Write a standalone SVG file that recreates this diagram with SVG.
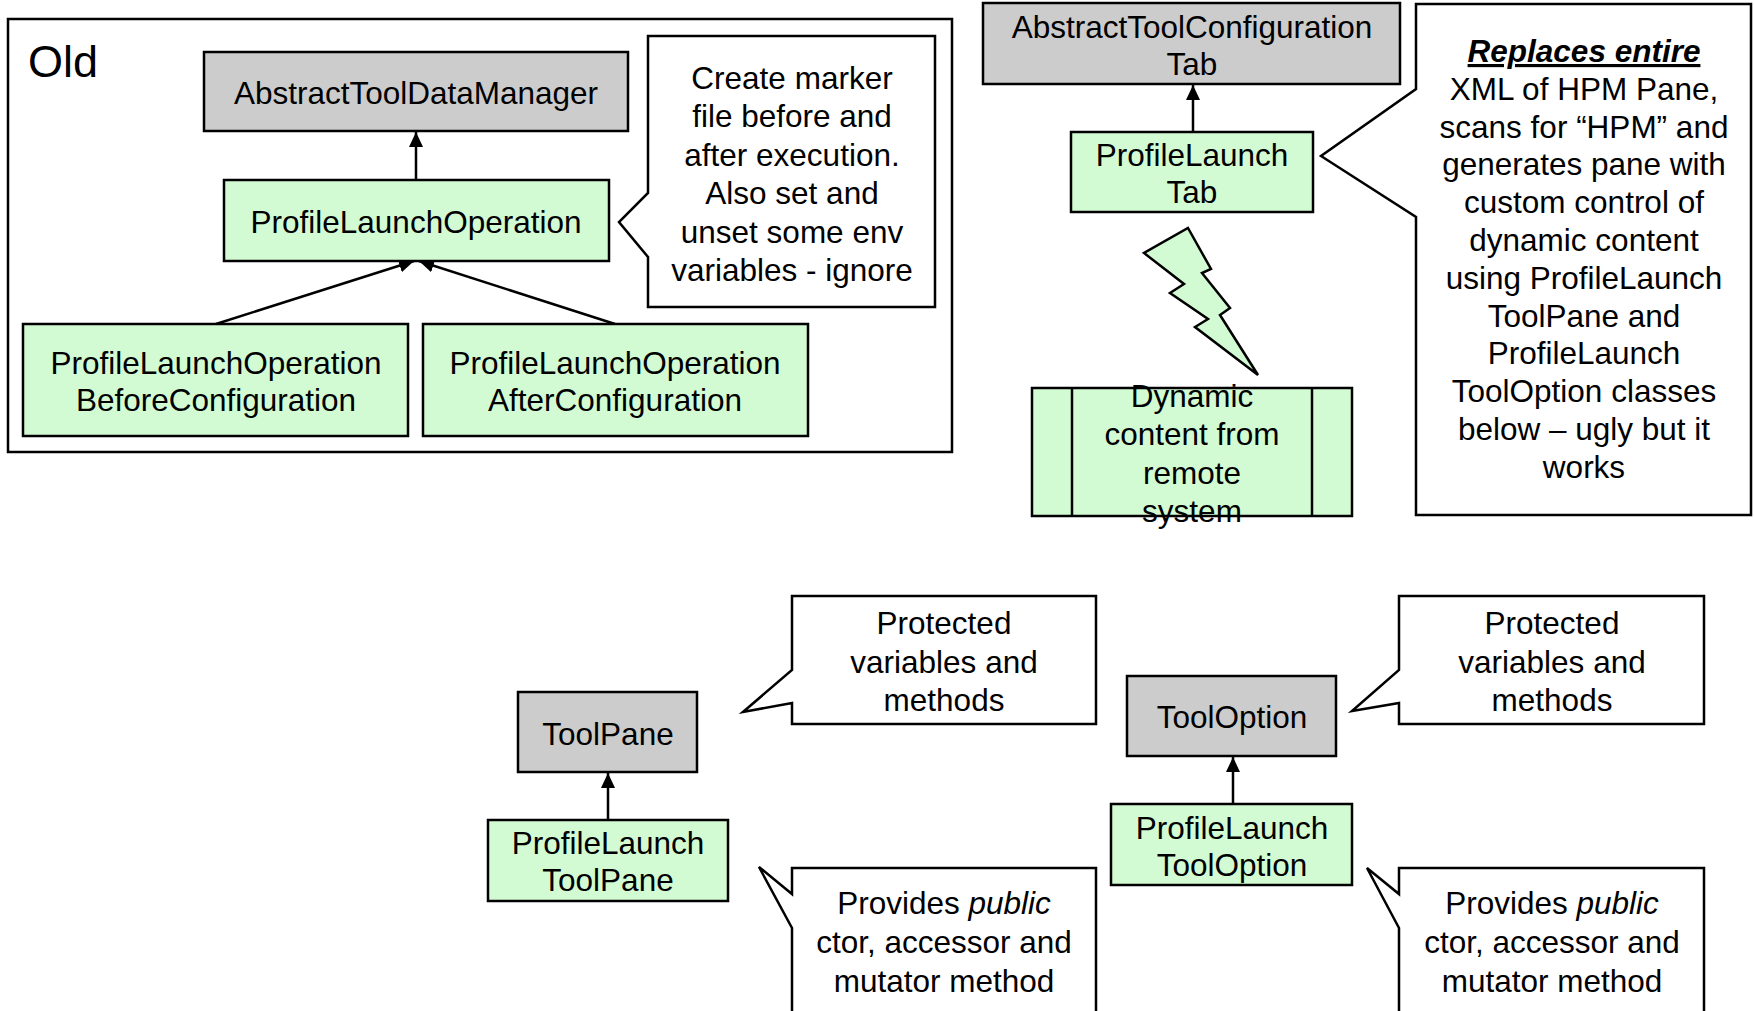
<svg xmlns="http://www.w3.org/2000/svg" width="1754" height="1011" viewBox="0 0 1754 1011">
<style>
.t{font-family:"Liberation Sans",Arial,sans-serif;font-size:31.5px;fill:#000;text-anchor:middle}
.gray{fill:#cccccc;stroke:#000;stroke-width:2.5}
.green{fill:#d3fbd3;stroke:#000;stroke-width:2.5}
.note{fill:#fff;stroke:#000;stroke-width:2.5;stroke-linejoin:miter}
.conn{stroke:#000;stroke-width:2.5;fill:none}
</style>
<defs>
<marker id="arr" markerUnits="userSpaceOnUse" markerWidth="16" markerHeight="14" refX="15" refY="7" orient="auto">
<path d="M0,0 L15,7 L0,14 Z" fill="#000"/>
</marker>
</defs>
<rect width="1754" height="1011" fill="#fff"/>

<g id="old-frame">
<rect x="8" y="19" width="944" height="433" fill="none" stroke="#000" stroke-width="2.5"/>
<text x="28" y="77" style="font-family:'Liberation Sans',Arial,sans-serif;font-size:45px">Old</text>
</g>

<g id="connectors">
<line class="conn" x1="416" y1="180" x2="416" y2="132" marker-end="url(#arr)"/>
<line class="conn" x1="216" y1="324" x2="414" y2="261" marker-end="url(#arr)"/>
<line class="conn" x1="615" y1="324" x2="419" y2="261" marker-end="url(#arr)"/>
<line class="conn" x1="1193" y1="132" x2="1193" y2="85" marker-end="url(#arr)"/>
<line class="conn" x1="608" y1="820" x2="608" y2="773" marker-end="url(#arr)"/>
<line class="conn" x1="1233" y1="804" x2="1233" y2="757" marker-end="url(#arr)"/>
</g>

<g id="AbstractToolDataManager">
<rect class="gray" x="204" y="52" width="424" height="79"/>
<text class="t" x="416" y="104">AbstractToolDataManager</text>
</g>
<g id="ProfileLaunchOperation">
<rect class="green" x="224" y="180" width="385" height="81"/>
<text class="t" x="416" y="233">ProfileLaunchOperation</text>
</g>
<g id="ProfileLaunchOperationBeforeConfiguration">
<rect class="green" x="23" y="324" width="385" height="112"/>
<text class="t" x="216" y="374">ProfileLaunchOperation</text>
<text class="t" x="216" y="411">BeforeConfiguration</text>
</g>
<g id="ProfileLaunchOperationAfterConfiguration">
<rect class="green" x="423" y="324" width="385" height="112"/>
<text class="t" x="615" y="374">ProfileLaunchOperation</text>
<text class="t" x="615" y="411">AfterConfiguration</text>
</g>
<g id="note-marker">
<path class="note" d="M648,36 H935 V307 H648 V257 L619,222 L648,193 Z"/>
<text class="t" x="792" y="89">Create marker</text>
<text class="t" x="792" y="127.4">file before and</text>
<text class="t" x="792" y="165.8">after execution.</text>
<text class="t" x="792" y="204.2">Also set and</text>
<text class="t" x="792" y="242.6">unset some env</text>
<text class="t" x="792" y="281">variables - ignore</text>
</g>

<g id="AbstractToolConfigurationTab">
<rect class="gray" x="983" y="3" width="417" height="81"/>
<text class="t" x="1192" y="38">AbstractToolConfiguration</text>
<text class="t" x="1192" y="75">Tab</text>
</g>
<g id="ProfileLaunchTab">
<rect class="green" x="1071" y="132" width="242" height="80"/>
<text class="t" x="1192" y="166">ProfileLaunch</text>
<text class="t" x="1192" y="203">Tab</text>
</g>
<g id="lightning">
<path d="M1188,228 L1211,269 L1202,273 L1230,308 L1220,315 L1258,375 L1195,327 L1208,319 L1170,293 L1184,284 L1144,253 Z" fill="#d3fbd3" stroke="#000" stroke-width="2.5" stroke-linejoin="miter"/>
</g>
<g id="DynamicContent">
<rect class="green" x="1032" y="388" width="320" height="128"/>
<line class="conn" x1="1072" y1="388" x2="1072" y2="516"/>
<line class="conn" x1="1312" y1="388" x2="1312" y2="516"/>
<text class="t" x="1192" y="407">Dynamic</text>
<text class="t" x="1192" y="445">content from</text>
<text class="t" x="1192" y="484">remote</text>
<text class="t" x="1192" y="522">system</text>
</g>
<g id="note-replaces">
<path class="note" d="M1416,4 H1751 V515 H1416 V217 L1321,156 L1416,89 Z"/>
<text class="t" x="1584" y="62" style="font-weight:bold;font-style:italic;text-decoration:underline">Replaces entire</text>
<text class="t" x="1584" y="99.8">XML of HPM Pane,</text>
<text class="t" x="1584" y="137.6">scans for “HPM” and</text>
<text class="t" x="1584" y="175.4">generates pane with</text>
<text class="t" x="1584" y="213.2">custom control of</text>
<text class="t" x="1584" y="251">dynamic content</text>
<text class="t" x="1584" y="288.8">using ProfileLaunch</text>
<text class="t" x="1584" y="326.6">ToolPane and</text>
<text class="t" x="1584" y="364.4">ProfileLaunch</text>
<text class="t" x="1584" y="402.2">ToolOption classes</text>
<text class="t" x="1584" y="440">below – ugly but it</text>
<text class="t" x="1584" y="477.8">works</text>
</g>

<g id="ToolPane">
<rect class="gray" x="518" y="692" width="179" height="80"/>
<text class="t" x="608" y="745">ToolPane</text>
</g>
<g id="ProfileLaunchToolPane">
<rect class="green" x="488" y="820" width="240" height="81"/>
<text class="t" x="608" y="854">ProfileLaunch</text>
<text class="t" x="608" y="891">ToolPane</text>
</g>
<g id="note-toolpane-protected">
<path class="note" d="M792,596 H1096 V724 H792 V703 L743,712 L792,670 Z"/>
<text class="t" x="944" y="634">Protected</text>
<text class="t" x="944" y="672.5">variables and</text>
<text class="t" x="944" y="711">methods</text>
</g>
<g id="note-toolpane-public">
<path class="note" d="M792,868 H1096 V1025 H792 V928 L759,867 L792,894 Z"/>
<text class="t" x="944" y="914">Provides <tspan style="font-style:italic">public</tspan></text>
<text class="t" x="944" y="953">ctor, accessor and</text>
<text class="t" x="944" y="992">mutator method</text>
</g>

<g id="ToolOption">
<rect class="gray" x="1127" y="676" width="209" height="80"/>
<text class="t" x="1232" y="728">ToolOption</text>
</g>
<g id="ProfileLaunchToolOption">
<rect class="green" x="1111" y="804" width="241" height="81"/>
<text class="t" x="1232" y="839">ProfileLaunch</text>
<text class="t" x="1232" y="876">ToolOption</text>
</g>
<g id="note-tooloption-protected">
<path class="note" d="M1399,596 H1704 V724 H1399 V703 L1352,711 L1399,670 Z"/>
<text class="t" x="1552" y="634">Protected</text>
<text class="t" x="1552" y="672.5">variables and</text>
<text class="t" x="1552" y="711">methods</text>
</g>
<g id="note-tooloption-public">
<path class="note" d="M1399,868 H1704 V1025 H1399 V928 L1367,868 L1399,894 Z"/>
<text class="t" x="1552" y="914">Provides <tspan style="font-style:italic">public</tspan></text>
<text class="t" x="1552" y="953">ctor, accessor and</text>
<text class="t" x="1552" y="992">mutator method</text>
</g>
</svg>
